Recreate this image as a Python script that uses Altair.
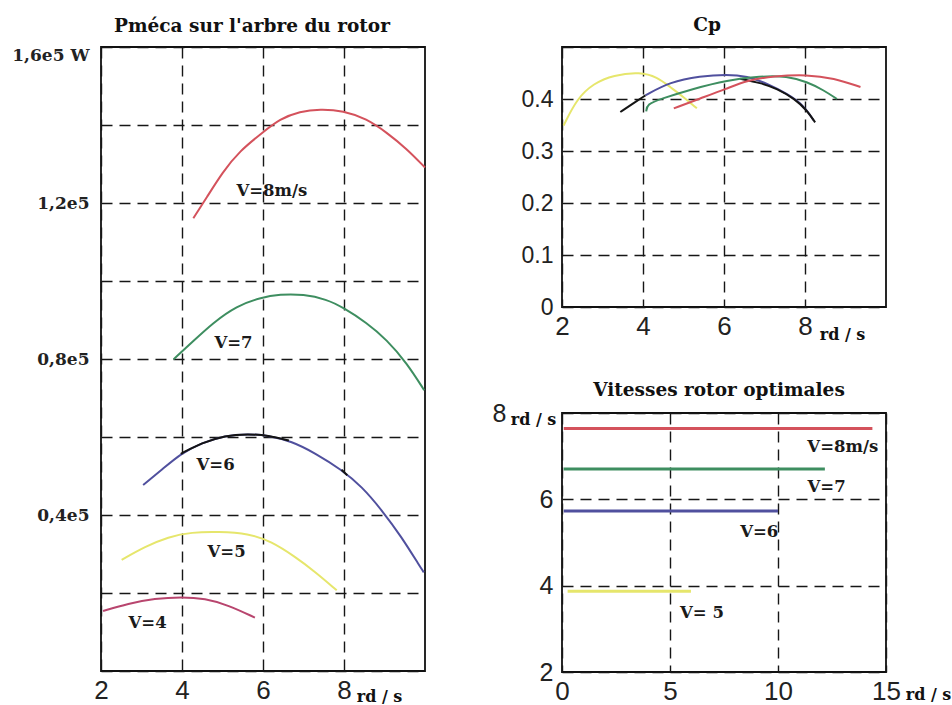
import altair as alt
import pandas as pd

# ---------------- Panel 1 : Pméca sur l'arbre du rotor (W) vs vitesse rotor (rd/s)
v4_x = [2.05, 2.67, 3.33, 3.99, 4.57, 5.14, 5.80]
v4_p = [15400, 17300, 18600, 19000, 18600, 16900, 13700]
v5_x = [2.51, 3.09, 3.66, 4.24, 4.90, 5.64, 6.21, 6.79, 7.28, 7.82]
v5_p = [28500, 31900, 34400, 35600, 35700, 35300, 33200, 29300, 25500, 20700]
v6_x = [3.04, 3.50, 3.99, 4.49, 5.06, 5.64, 6.13, 6.71, 7.28, 7.94, 8.44, 8.93, 9.42, 9.88, 9.97]
v6_p = [47700, 51600, 55900, 58500, 60400, 60800, 60400, 58900, 55900, 51600, 47300, 41300, 34400, 26700, 25300]
v6k_x = [3.97, 4.49, 5.06, 5.64, 6.13, 6.64]
v6k_p = [55700, 58500, 60400, 60800, 60400, 59100]
v6k2_x = [7.94, 8.08]
v6k2_p = [51600, 50200]
v7_x = [3.79, 4.28, 4.77, 5.35, 5.93, 6.42, 7.00, 7.57, 7.98, 8.56, 9.05, 9.55, 9.98]
v7_p = [79900, 84600, 89300, 93600, 95700, 96600, 96600, 95300, 93200, 89300, 85000, 79000, 72000]
v8_x = [4.28, 4.61, 5.00, 5.43, 5.97, 6.42, 6.91, 7.41, 7.98, 8.56, 9.05, 9.55, 10.0]
v8_p = [116100, 121400, 127900, 133400, 137900, 141600, 143500, 144100, 143700, 141600, 138100, 133900, 129100]

p_labels = ["V=8m/s", "V=7", "V=6", "V=5", "V=4"]
p_label_x = [6.22, 5.27, 4.83, 5.10, 3.15]
p_label_y = [123100, 84000, 52700, 30400, 12200]

# ---------------- Panel 2 : Cp
cp5_x = [2.04, 2.37, 2.78, 3.27, 3.93, 4.35, 4.67, 5.00, 5.33]
cp5 = [0.349, 0.401, 0.430, 0.446, 0.452, 0.442, 0.423, 0.404, 0.382]
cp6_x = [4.06, 4.67, 5.41, 6.07, 6.57, 7.06, 7.56, 7.97, 8.21]
cp6 = [0.407, 0.433, 0.444, 0.4475, 0.444, 0.430, 0.410, 0.388, 0.359]
cp6k_x = [3.44, 3.75, 4.06]
cp6k = [0.375, 0.391, 0.407]
cp6k2_x = [6.40, 6.90, 7.31, 7.75, 8.05, 8.25]
cp6k2 = [0.439, 0.431, 0.420, 0.400, 0.378, 0.355]
cp7_x = [4.08, 4.10, 4.43, 5.25, 6.07, 6.90, 7.56, 8.05, 8.46, 8.79]
cp7 = [0.376, 0.390, 0.400, 0.420, 0.436, 0.444, 0.444, 0.433, 0.417, 0.400]
cp8_x = [4.76, 5.41, 6.07, 6.57, 7.23, 8.05, 8.71, 9.37]
cp8 = [0.382, 0.401, 0.420, 0.436, 0.444, 0.447, 0.440, 0.423]

# ---------------- Panel 3 : Vitesses rotor optimales
vit_series = ["V=8", "V=7", "V=6", "V=5"]
vit_t_start = [0.08, 0.08, 0.08, 0.26]
vit_t_end = [14.37, 12.17, 10.0, 5.97]
vit_speed = [7.64, 6.70, 5.73, 3.87]
vit_labels = ["V=8m/s", "V=7", "V=6", "V= 5"]
vit_label_x = [13.0, 12.25, 9.13, 6.48]
vit_label_y = [7.21, 6.29, 5.24, 3.36]

series_names = ["V=4", "V=5", "V=6", "V=6n", "V=7", "V=8"]
series_colors = ["#b8456e", "#e6e66c", "#50509e", "#141414", "#3e8e60", "#d4525c"]


def build(parts):
    rows = []
    for name, seg, xs, ys in parts:
        for a, b in zip(xs, ys):
            rows.append({"x": a, "y": b, "s": name, "seg": seg})
    return pd.DataFrame(rows)


p_df = build([
    ("V=4", "a", v4_x, v4_p), ("V=5", "b", v5_x, v5_p), ("V=6", "c", v6_x, v6_p),
    ("V=6n", "d", v6k_x, v6k_p), ("V=6n", "e", v6k2_x, v6k2_p),
    ("V=7", "f", v7_x, v7_p), ("V=8", "g", v8_x, v8_p),
])
cp_df = build([
    ("V=5", "a", cp5_x, cp5), ("V=6", "b", cp6_x, cp6),
    ("V=6n", "c", cp6k_x, cp6k), ("V=6n", "d", cp6k2_x, cp6k2),
    ("V=7", "e", cp7_x, cp7), ("V=8", "f", cp8_x, cp8),
])
vit_df = pd.DataFrame({"s": vit_series, "x": vit_t_start, "x2": vit_t_end, "y": vit_speed})
p_lab = pd.DataFrame({"t": p_labels, "x": p_label_x, "y": p_label_y})
vit_lab = pd.DataFrame({"t": vit_labels, "x": vit_label_x, "y": vit_label_y})

color = alt.Color("s:N", scale=alt.Scale(domain=series_names, range=series_colors), legend=None)

GRID = dict(grid=True, gridDash=[11, 7], gridColor="#161616", gridWidth=1.4, gridOpacity=1,
            ticks=False, domain=False, labelColor="#222222")
SANS = dict(labelFont="Liberation Sans", labelFontWeight="normal")
RDS = dict(title="rd / s", titleFont="DejaVu Serif", titleFontWeight="bold", titleFontSize=16,
           titleColor="#111111", titleAngle=0, titleAlign="center", titleBaseline="middle")
SERIF_TITLE = dict(font="DejaVu Serif", fontSize=18.5, fontWeight="bold", color="#111111",
                   anchor="middle", baseline="alphabetic")
LABEL_TEXT = dict(font="DejaVu Serif", fontWeight="bold", fontSize=16.5, color="#1a1a1a")

# ---------- left panel
px_axis = alt.Axis(values=[2, 4, 6, 8], labelFlush=False, labelFontSize=26, labelPadding=6,
                   titleX=278, titleY=25, **GRID, **SANS, **RDS)
py_axis = alt.Axis(values=[0, 20000, 40000, 60000, 80000, 100000, 120000, 140000, 160000],
                   labelExpr="datum.value == 160000 ? '1,6e5 W' : datum.value == 120000 ? '1,2e5' : "
                             "datum.value == 80000 ? '0,8e5' : datum.value == 40000 ? '0,4e5' : ''",
                   labelFlush=True, labelFont="DejaVu Serif", labelFontWeight="bold",
                   labelFontSize=17, labelPadding=12, title=None, **GRID)
px = alt.X("x:Q", scale=alt.Scale(domain=[2, 10], nice=False), axis=px_axis)
py = alt.Y("y:Q", scale=alt.Scale(domain=[0, 160000], nice=False), axis=py_axis)

left = alt.layer(
    alt.Chart(p_df).mark_line(strokeWidth=2, interpolate="basis").encode(
        x=px, y=py, color=color, detail="seg:N"),
    alt.Chart(p_lab).mark_text(**LABEL_TEXT).encode(x=px, y=py, text="t:N"),
).properties(width=324, height=624,
             title=alt.TitleParams("Pméca sur l'arbre du rotor", offset=15, dx=-11, dy=19, **SERIF_TITLE))

# ---------- Cp panel
cx_axis = alt.Axis(values=[2, 4, 6, 8], labelFlush=False, labelFontSize=26, labelPadding=6,
                   titleX=280, titleY=27, **GRID, **SANS, **RDS)
cy_axis = alt.Axis(values=[0, 0.1, 0.2, 0.3, 0.4, 0.5],
                   labelExpr="datum.value == 0 ? '0' : datum.value > 0.45 ? '' : format(datum.value, '.1f')",
                   labelFlush=False, labelFontSize=23, labelPadding=9, title=None, **GRID, **SANS)
cp = alt.Chart(cp_df).mark_line(strokeWidth=2, interpolate="basis").encode(
    x=alt.X("x:Q", scale=alt.Scale(domain=[2, 10], nice=False), axis=cx_axis),
    y=alt.Y("y:Q", scale=alt.Scale(domain=[0, 0.5], nice=False), axis=cy_axis),
    color=color, detail="seg:N",
).properties(width=324, height=260,
             title=alt.TitleParams("Cp", offset=14, dx=-17, dy=16, **SERIF_TITLE))

# ---------- Vitesses panel
vx_axis = alt.Axis(values=[0, 5, 10, 15], labelFlush=False, labelFontSize=26, labelPadding=6,
                   titleX=366, titleY=22, **GRID, **SANS, **RDS)
vy_axis = alt.Axis(values=[2, 4, 6, 8], labelFlush=False, labelFontSize=25,
                   labelPadding={"condition": {"test": "datum.value == 8", "value": 56}, "value": 9},
                   titleX=-29, titleY=6, **GRID, **SANS, **RDS)
vxs = alt.Scale(domain=[0, 15], nice=False)
vys = alt.Scale(domain=[2, 8], nice=False)
vit = alt.layer(
    alt.Chart(vit_df).mark_rule(strokeWidth=3).encode(
        x=alt.X("x:Q", scale=vxs, axis=vx_axis), x2="x2:Q",
        y=alt.Y("y:Q", scale=vys, axis=vy_axis), color=color),
    alt.Chart(vit_lab).mark_text(**LABEL_TEXT)
    .encode(x=alt.X("x:Q", scale=vxs, axis=vx_axis), y=alt.Y("y:Q", scale=vys, axis=vy_axis), text="t:N"),
).properties(width=324, height=259,
             title=alt.TitleParams("Vitesses rotor optimales", offset=18, dx=-5, dy=31, **SERIF_TITLE))

# With autosize "none" a concatenated view has no overall width/height of its own,
# so the padding alone sets the 952 x 705 canvas; the plots start at (101, 47).
right = alt.vconcat(cp, vit, spacing=106, bounds="flush")
chart = alt.hconcat(left, right, spacing=137, bounds="flush").properties(
    autosize=alt.AutoSizeParams(type="none"),
    padding={"left": 101, "top": 47, "right": 851, "bottom": 658},
    background="white",
).configure_view(stroke="#111111", strokeWidth=1.8)

chart.save("out.html", embed_options={"renderer": "svg", "actions": False})
